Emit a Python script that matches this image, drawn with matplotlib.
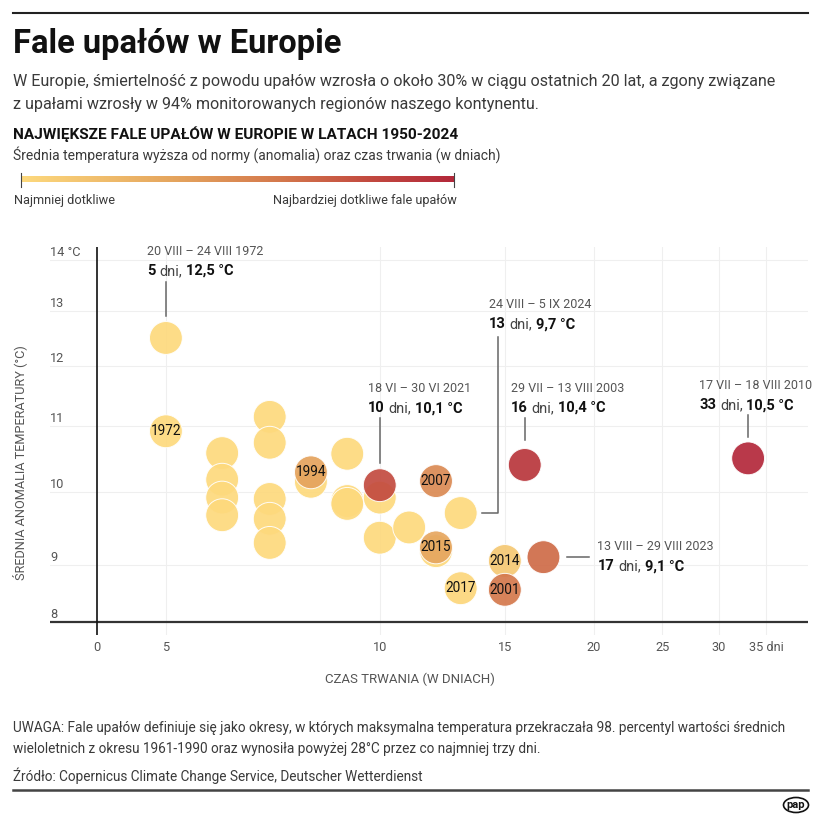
import matplotlib
matplotlib.use("Agg")
import matplotlib.pyplot as plt
from matplotlib.colors import LinearSegmentedColormap
from matplotlib.patches import Ellipse
import numpy as np

plt.rcParams["font.family"] = ["Roboto", "DejaVu Sans"]

# ---------------- data ----------------
days = [5, 5, 6, 6, 6, 6, 7, 7, 7, 7, 7, 8, 8, 9, 9, 9, 10, 10, 10,
        11, 12, 12, 12, 13, 13, 15, 15, 16, 17, 33]
anomaly = [12.5, 10.92, 10.58, 10.18, 9.92, 9.67, 11.15, 10.74, 9.90, 9.62, 9.29,
           10.15, 10.29, 10.57, 9.87, 9.83, 9.92, 9.36, 10.1,
           9.50, 10.16, 9.18, 9.23, 9.7, 8.70, 9.05, 8.68, 10.4, 9.1, 10.5]
severity = [0, 0, 0, 0, 0, 0, 0, 0, 0, 0, 0,
            0, 0.36, 0, 0, 0, 0, 0, 0.8,
            0, 0.5, 0, 0.34, 0, 0.02, 0.12, 0.6, 0.92, 0.66, 1.0]
year_labels = ["", "1972", "", "", "", "", "", "", "", "", "",
               "", "1994", "", "", "", "", "", "",
               "", "2007", "", "2015", "", "2017", "2014", "2001", "", "", ""]

x_ticks = [4, 5, 10, 15, 20, 25, 30, 35]
x_tick_labels = ["0", "5", "10", "15", "20", "25", "30", "35 dni"]
y_ticks = [8.29, 9, 10, 11, 12, 13, 14]
y_tick_labels = ["8", "9", "10", "11", "12", "13", "14 °C"]

# callouts: (days, anomaly, dates, duration, temperature)
callouts = [
    (5, 12.5, "20 VIII – 24 VIII 1972", "5", "12,5 °C"),
    (10, 10.1, "18 VI – 30 VI 2021", "10", "10,1 °C"),
    (13, 9.7, "24 VIII – 5 IX 2024", "13", "9,7 °C"),
    (16, 10.4, "29 VII – 13 VIII 2003", "16", "10,4 °C"),
    (33, 10.5, "17 VII – 18 VIII 2010", "33", "10,5 °C"),
    (17, 9.1, "13 VIII – 29 VIII 2023", "17", "9,1 °C"),
]
# text offset (dx, dy of date baseline) and leader line in pixels, per callout
callout_layout = [
    ((-19, -83), [(0, -56), (0, -22)]),
    ((-12, -93), [(0, -67), (0, -22)]),
    ((28, -205), [(21, 0), (37, 0), (37, -176)]),
    ((-14, -73), [(0, -47), (0, -25)]),
    ((-49, -69), [(0, -43), (0, -21)]),
    ((54, -7), [(24, 0), (46, 0)]),
]

cmap = LinearSegmentedColormap.from_list(
    "heat", [(0, "#FDD97D"), (0.35, "#E5A55E"), (0.6, "#D4784C"),
             (0.8, "#C34B40"), (1.0, "#B3283A")])

W = H = 821
fig = plt.figure(figsize=(W / 100, H / 100), dpi=100)
ov = fig.add_axes([0, 0, 1, 1])
ov.set_xlim(0, W)
ov.set_ylim(H, 0)
ov.axis("off")
ov.set_zorder(3)

GRAY = "#555555"
TXT = "#3a3a3a"
DARK = "#111111"

# ---------------- header ----------------
ov.plot([13, 808], [13, 13], color="#222222", lw=1.5)
ov.text(13, 53, "Fale upałów w Europie", fontsize=23.5, weight="bold",
        color=DARK, va="baseline")
ov.text(13, 86, "W Europie, śmiertelność z powodu upałów wzrosła o około 30% w ciągu "
        "ostatnich 20 lat, a zgony związane", fontsize=11.6, color=TXT, va="baseline")
ov.text(13, 109, "z upałami wzrosły w 94% monitorowanych regionów naszego kontynentu.",
        fontsize=11.6, color=TXT, va="baseline")
ov.text(13, 139, "NAJWIĘKSZE FALE UPAŁÓW W EUROPIE W LATACH 1950-2024", fontsize=11.1,
        weight="bold", color=DARK, va="baseline")
ov.text(13, 160, "Średnia temperatura wyższa od normy (anomalia) oraz czas trwania (w dniach)",
        fontsize=10, color=TXT, va="baseline")

ov.imshow(np.linspace(0, 1, 256)[None, :], cmap=cmap, extent=[21, 454, 182, 176],
          aspect="auto", zorder=1)
ov.set_xlim(0, W)
ov.set_ylim(H, 0)
for xe in (21, 454):
    ov.plot([xe, xe], [173, 187], color="#444444", lw=0.8)
ov.text(14, 204, "Najmniej dotkliwe", fontsize=9.2, color=TXT, va="baseline")
ov.text(457, 204, "Najbardziej dotkliwe fale upałów", fontsize=9.2, color=TXT,
        va="baseline", ha="right")

# ---------------- chart ----------------
ax = fig.add_axes([50 / W, 1 - 635 / H, 758 / W, 388 / H])
ax.set_facecolor("none")
ax.set_xscale("log")
ax.set_yscale("log")
ax.set_xlim(3.434, 40.07)
ax.set_ylim(8.13, 14.26)
for s in ax.spines.values():
    s.set_visible(False)
ax.set_xticks([])
ax.set_yticks([])
ax.minorticks_off()

for v in y_ticks[1:]:
    ax.axhline(v, color="#efefef", lw=0.8, zorder=0)
for v in x_ticks[1:]:
    ax.axvline(v, color="#efefef", lw=0.8, zorder=0)
ax.axhline(y_ticks[0], color="#333333", lw=1.6, zorder=1)
ax.axvline(x_ticks[0], color=DARK, lw=1.2, zorder=1)

for v, lab in zip(x_ticks, x_tick_labels):
    ax.annotate(lab, xy=(v, y_ticks[0]), xytext=(0, -26), textcoords="offset pixels",
                ha="center", va="center", fontsize=9.2, color=GRAY,
                annotation_clip=False)
for v, lab in zip(y_ticks, y_tick_labels):
    ax.annotate(lab, xy=(0, v), xycoords=("axes fraction", "data"), xytext=(0, 4),
                textcoords="offset pixels", ha="left", va="baseline", fontsize=9.2,
                color=GRAY, annotation_clip=False)

d = np.array(days)
a = np.array(anomaly)
sv = np.array(severity)
order = np.argsort(sv, kind="stable")
ax.scatter(d[order], a[order], s=560, c=cmap(sv[order]), alpha=0.92,
           edgecolors="white", linewidths=0.7, zorder=3)
for x, y, lab in zip(days, anomaly, year_labels):
    if lab:
        ax.text(x, y, lab, ha="center", va="center", fontsize=9.8, color=DARK, zorder=4)

fig.text(410 / W, 1 - 679 / H, "CZAS TRWANIA (W DNIACH)", ha="center", va="center",
         fontsize=9.5, color=GRAY)
fig.text(20 / W, 1 - 463 / H, "ŚREDNIA ANOMALIA TEMPERATURY (°C)", ha="center",
         va="center", rotation=90, fontsize=9.2, color=GRAY)

# ---------------- callouts ----------------
renderer = fig.canvas.get_renderer()


def rich(x, y, parts, size):
    gap = 0.26 * size * 100 / 72
    for txt, bold, col in parts:
        t = ov.text(x, y, txt, fontsize=size, weight="bold" if bold else "normal",
                    color=col, va="baseline", ha="left")
        x += t.get_window_extent(renderer).width + gap


for (cd, ca, dates, dur, temp), ((tx, ty), line) in zip(callouts, callout_layout):
    px, py = ax.transData.transform((cd, ca))
    py = H - py
    ov.plot([px + p[0] for p in line], [py + p[1] for p in line], color="#666666", lw=1.1)
    ov.text(px + tx, py + ty, dates, fontsize=9, color=GRAY, va="baseline")
    rich(px + tx, py + ty + 20, [(dur, True, DARK), ("dni,", False, "#444444"),
                                (temp, True, DARK)], 10.5)

# ---------------- footer ----------------
ov.text(13, 732, "UWAGA: Fale upałów definiuje się jako okresy, w których maksymalna "
        "temperatura przekraczała 98. percentyl wartości średnich", fontsize=9.85,
        color=TXT, va="baseline")
ov.text(13, 753, "wieloletnich z okresu 1961-1990 oraz wynosiła powyżej 28°C przez co "
        "najmniej trzy dni.", fontsize=9.85, color=TXT, va="baseline")
ov.text(13, 781, "Źródło: Copernicus Climate Change Service, Deutscher Wetterdienst",
        fontsize=9.85, color=TXT, va="baseline")
ov.plot([13, 808], [790, 790], color="#444444", lw=1.8)
ov.add_patch(Ellipse((796, 805), 25, 15, facecolor="white", edgecolor=DARK, lw=1.2))
ov.text(796, 805, "pap", ha="center", va="center", fontsize=8, weight="bold", color=DARK)

fig.savefig("out.png", dpi=100)
